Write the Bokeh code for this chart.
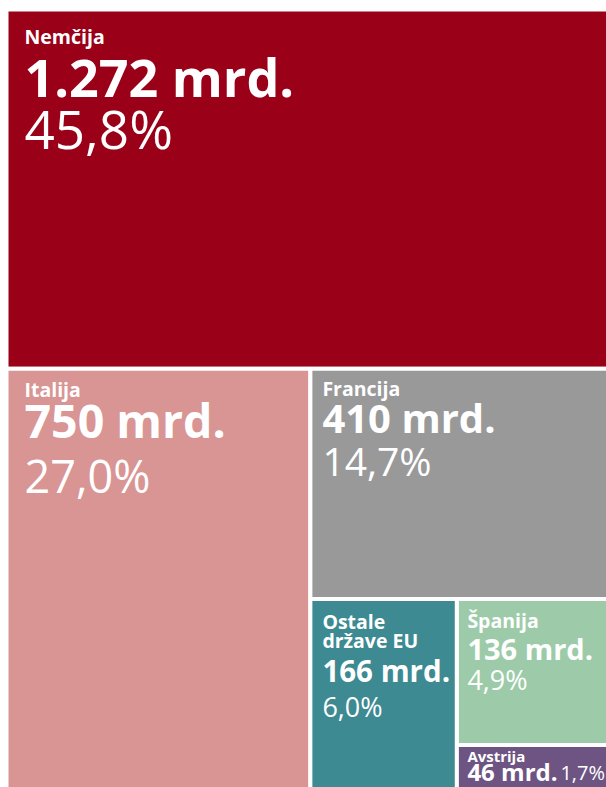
from bokeh.plotting import figure
from bokeh.models import ColumnDataSource, Range1d
from bokeh.core.properties import value
from bokeh.embed import file_html
from bokeh.resources import INLINE

# ---- data ----
countries = ["Nemčija", "Italija", "Francija", "Ostale\ndržave EU", "Španija", "Avstrija"]
values_mrd = [1272, 750, 410, 166, 136, 46]
shares_pct = [45.8, 27.0, 14.7, 6.0, 4.9, 1.7]
colors = ["#9b0019", "#d89594", "#999999", "#3d8a92", "#9dcba9", "#6d5483"]

# ---- layout styles per tile (text sizes / baseline offsets from tile's top-left) ----
# name_size, value_size, pct_size, pad_x, name_dy, value_dy, pct_dy, pct_dx (same line if >0)
styles = [
    (19.5, 52, 53, 18, 35, 89, 141, 0),
    (19.5, 46.5, 45, 18, 29, 71, 126, 0),
    (19.5, 40, 39, 12, 28, 66, 108, 0),
    (19.5, 29.5, 27, 12, 31, 84, 119, 0),
    (19.5, 29, 27, 10.5, 30, 62, 92, 0),
    (15, 24, 20, 10.5, 17, 36, 36, 93),
]
LINE_H = 19
BASE_SHIFT = 0.42  # renderer places the glyph lower than the nominal baseline by ~0.42 em


def squarify(vals, x, y, w, h):
    total = float(sum(vals))
    areas = [v * w * h / total for v in vals]
    rects = []

    def worst(row, side):
        s = sum(row)
        return max(max(side * side * r / (s * s), (s * s) / (side * side * r)) for r in row)

    i = 0
    while i < len(areas):
        side = min(w, h)
        row = [areas[i]]
        j = i + 1
        while j < len(areas) and worst(row + [areas[j]], side) <= worst(row, side):
            row.append(areas[j])
            j += 1
        s = sum(row)
        if w >= h:
            rw = s / h
            yy = y
            for a in row:
                rects.append((x, yy, rw, a / rw))
                yy += a / rw
            x += rw
            w -= rw
        else:
            rh = s / w
            xx = x
            for a in row:
                rects.append((xx, y, a / rh, rh))
                xx += a / rh
            y += rh
            h -= rh
        i = j
    return rects


# treemap domain (screen-like coordinates, y grows downward); extends past the crop
DOM_X, DOM_Y, DOM_W, DOM_H = 6, 9, 611, 785
rects = squarify(values_mrd, DOM_X, DOM_Y, DOM_W, DOM_H)


def fmt_int(v):
    return f"{v:,}".replace(",", ".")


def fmt_pct(v):
    return f"{v:.1f}".replace(".", ",") + "%"


quad_src = ColumnDataSource(dict(
    left=[r[0] for r in rects],
    right=[r[0] + r[2] for r in rects],
    top=[r[1] for r in rects],
    bottom=[r[1] + r[3] for r in rects],
    color=colors,
))

tx, ty, tt, tsize, tstyle = [], [], [], [], []


def add_text(x, base_y, s, size, style):
    tx.append(x)
    ty.append(base_y - BASE_SHIFT * size)
    tt.append(s)
    tsize.append(f"{size}px")
    tstyle.append(style)


for (x0, y0, w, h), name, v, pct, st in zip(rects, countries, values_mrd, shares_pct, styles):
    ns, vs, ps, px, ndy, vdy, pdy, pdx = st
    for k, ln in enumerate(name.split("\n")):
        add_text(x0 + px, y0 + ndy + k * LINE_H, ln, ns, "bold")
    add_text(x0 + px, y0 + vdy, f"{fmt_int(v)} mrd.", vs, "bold")
    add_text(x0 + px + pdx, y0 + pdy, fmt_pct(pct), ps, "normal")

text_src = ColumnDataSource(dict(x=tx, y=ty, text=tt, size=tsize, style=tstyle))

p = figure(width=606, height=787, output_backend="svg", toolbar_location=None,
           x_range=Range1d(0, 606), y_range=Range1d(787, 0),
           min_border=0, outline_line_color=None)
p.axis.visible = False
p.grid.visible = False
p.background_fill_color = "white"
p.border_fill_color = "white"

p.quad(left="left", right="right", top="top", bottom="bottom", source=quad_src,
       fill_color="color", line_color="white", line_width=4)

p.text(x="x", y="y", text="text", source=text_src, text_color="white",
       text_font=value("Open Sans"), text_font_size="size", text_font_style="style",
       text_align="left", text_baseline="alphabetic")

open("out.html", "w").write(file_html(p, INLINE))
